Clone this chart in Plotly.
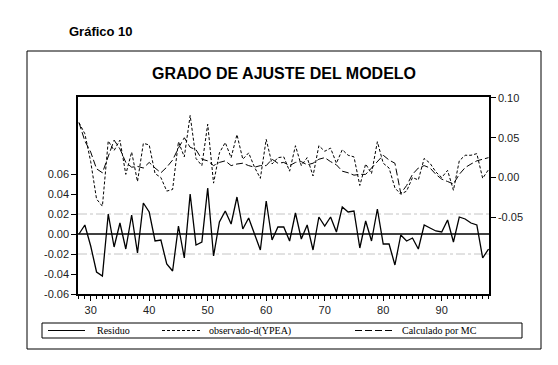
import plotly.graph_objects as go

years = list(range(28, 99))
residuo = [0.000, 0.009, -0.012, -0.038, -0.042, 0.020, -0.013, 0.011, -0.015, 0.019,
           -0.019, 0.031, 0.022, -0.007, -0.006, -0.030, -0.037, 0.008, -0.024, 0.040,
           -0.011, -0.008, 0.046, -0.022, 0.012, 0.023, 0.010, 0.037, 0.005, 0.016,
           0.000, -0.016, 0.033, -0.006, 0.007, 0.007, -0.007, 0.021, -0.005, 0.009,
           -0.016, 0.017, 0.008, 0.017, 0.002, 0.027, 0.022, 0.023, -0.014, 0.013,
           -0.007, 0.025, -0.010, -0.010, -0.031, -0.001, -0.007, -0.004, -0.015, 0.009,
           0.006, 0.003, 0.002, 0.014, -0.008, 0.017, 0.015, 0.011, 0.009, -0.024,
           -0.015]
observado = [0.069, 0.055, 0.020, -0.027, -0.036, 0.046, 0.034, 0.047, 0.004, 0.032,
             -0.005, 0.043, 0.041, 0.005, 0.000, -0.017, -0.015, 0.045, 0.026, 0.078,
             0.024, 0.015, 0.067, -0.007, 0.031, 0.044, 0.025, 0.054, 0.023, 0.031,
             0.013, -0.001, 0.048, 0.017, 0.025, 0.026, 0.008, 0.040, 0.015, 0.025,
             0.002, 0.040, 0.033, 0.037, 0.018, 0.035, 0.028, 0.026, -0.010, 0.017,
             0.005, 0.045, 0.018, 0.012, -0.013, -0.021, -0.017, 0.000, -0.003, 0.024,
             0.018, 0.007, 0.000, 0.009, -0.016, 0.021, 0.028, 0.028, 0.030, -0.001,
             0.010]
calculado = [0.069, 0.046, 0.032, 0.011, 0.006, 0.026, 0.047, 0.036, 0.019, 0.013,
             0.014, 0.012, 0.019, 0.012, 0.006, 0.013, 0.022, 0.037, 0.050, 0.038,
             0.035, 0.023, 0.021, 0.015, 0.019, 0.021, 0.015, 0.017, 0.018, 0.015,
             0.013, 0.015, 0.015, 0.023, 0.018, 0.019, 0.015, 0.019, 0.020, 0.016,
             0.018, 0.023, 0.025, 0.020, 0.016, 0.008, 0.006, 0.003, 0.004, 0.004,
             0.012, 0.020, 0.028, 0.022, 0.018, -0.020, -0.010, 0.004, 0.012, 0.015,
             0.012, 0.004, -0.002, -0.005, -0.008, 0.004, 0.0125, 0.017, 0.021, 0.023,
             0.025]

left_ticks = [-0.06, -0.04, -0.02, 0.00, 0.02, 0.04, 0.06]
right_ticks = [-0.05, 0.00, 0.05, 0.10]
x_ticks = [30, 40, 50, 60, 70, 80, 90]
band = [-0.02, 0.02]

# page offset of the plot div (browser body margin)
OFF = 8
W, H = 558 - OFF, 365 - OFF
L, R, T, B = 78 - OFF, 489 - OFF, 97 - OFF, 294 - OFF


def px(x):
    return (x - OFF - L) / (R - L)


def py(y):
    return (B - (y - OFF)) / (B - T)


fig = go.Figure()
fig.add_trace(go.Scatter(x=years, y=residuo, mode="lines", name="Residuo",
                         line=dict(color="black", width=1.3), yaxis="y"))
fig.add_trace(go.Scatter(x=years, y=observado, mode="lines", name="observado-d(YPEA)",
                         line=dict(color="black", width=1, dash="3px,2px"), yaxis="y2"))
fig.add_trace(go.Scatter(x=years, y=calculado, mode="lines", name="Calculado por MC",
                         line=dict(color="black", width=1, dash="7px,3px"), yaxis="y2"))

shapes = []
shapes.append(dict(type="line", xref="paper", x0=0, x1=1, yref="y", y0=0, y1=0,
                   line=dict(color="black", width=1.3), layer="below"))
for b in band:
    shapes.append(dict(type="line", xref="paper", x0=0, x1=1, yref="y", y0=b, y1=b,
                       line=dict(color="#c4c4c4", width=1, dash="dashdot"), layer="below"))
# outer frame
shapes.append(dict(type="rect", xref="paper", yref="paper", x0=px(27), x1=px(541),
                   y0=py(349), y1=py(51), line=dict(color="black", width=1)))
# legend box
shapes.append(dict(type="rect", xref="paper", yref="paper", x0=px(42), x1=px(522),
                   y0=py(338), y1=py(323), line=dict(color="black", width=1)))
ly = py(330.5)
leg = [(48, 85, "solid", "Residuo", 95),
       (162, 202, "3px,2px", "observado-d(YPEA)", 207),
       (355, 395, "7px,3px", "Calculado por MC", 400)]
annotations = []
for x0, x1, dash, txt, tx in leg:
    shapes.append(dict(type="line", xref="paper", yref="paper", x0=px(x0), x1=px(x1),
                       y0=ly, y1=ly, line=dict(color="black", width=1, dash=dash)))
    annotations.append(dict(text=txt, xref="paper", yref="paper", x=px(tx), y=ly,
                            xanchor="left", yanchor="middle", showarrow=False,
                            font=dict(family="Liberation Serif", size=10, color="black")))

annotations.append(dict(text="<b>Gráfico 10</b>", xref="paper", yref="paper", x=px(67), y=py(31),
                        xanchor="left", yanchor="middle", showarrow=False,
                        font=dict(family="Liberation Sans", size=13, color="black")))
annotations.append(dict(text="<b>GRADO DE AJUSTE DEL MODELO</b>", xref="paper", yref="paper",
                        x=px(284), y=py(73), xanchor="center", yanchor="middle", showarrow=False,
                        font=dict(family="Liberation Sans", size=16, color="black")))

axfont = dict(family="Liberation Sans", size=11, color="#222")
fig.update_layout(
    width=W, height=H,
    margin=dict(l=L, r=W - R, t=T, b=H - B, pad=0),
    paper_bgcolor="white", plot_bgcolor="white",
    showlegend=False,
    shapes=shapes, annotations=annotations,
    xaxis=dict(range=[27.83, 98.08], tickvals=x_ticks, ticktext=[str(v) for v in x_ticks],
               ticks="outside", ticklen=5, tickcolor="black", tickwidth=1,
               minor=dict(dtick=1, tick0=0, ticks="outside", ticklen=3, tickcolor="black"),
               showline=True, linecolor="black", linewidth=1.5, mirror=True,
               showgrid=False, zeroline=False, tickfont=axfont),
    yaxis=dict(range=[-0.06, 0.137], tickvals=left_ticks,
               ticktext=[f"{v:.2f}" for v in left_ticks],
               ticks="outside", ticklen=5, tickcolor="black",
               showline=True, linecolor="black", linewidth=1.5,
               showgrid=False, zeroline=False, tickfont=axfont),
    yaxis2=dict(range=[-0.1463, 0.1012], tickvals=right_ticks,
                ticktext=[f"{v:.2f}" for v in right_ticks],
                overlaying="y", side="right",
                ticks="outside", ticklen=5, tickcolor="black",
                showline=True, linecolor="black", linewidth=1.5,
                showgrid=False, zeroline=False, tickfont=axfont),
)

fig.write_html("out.html")
